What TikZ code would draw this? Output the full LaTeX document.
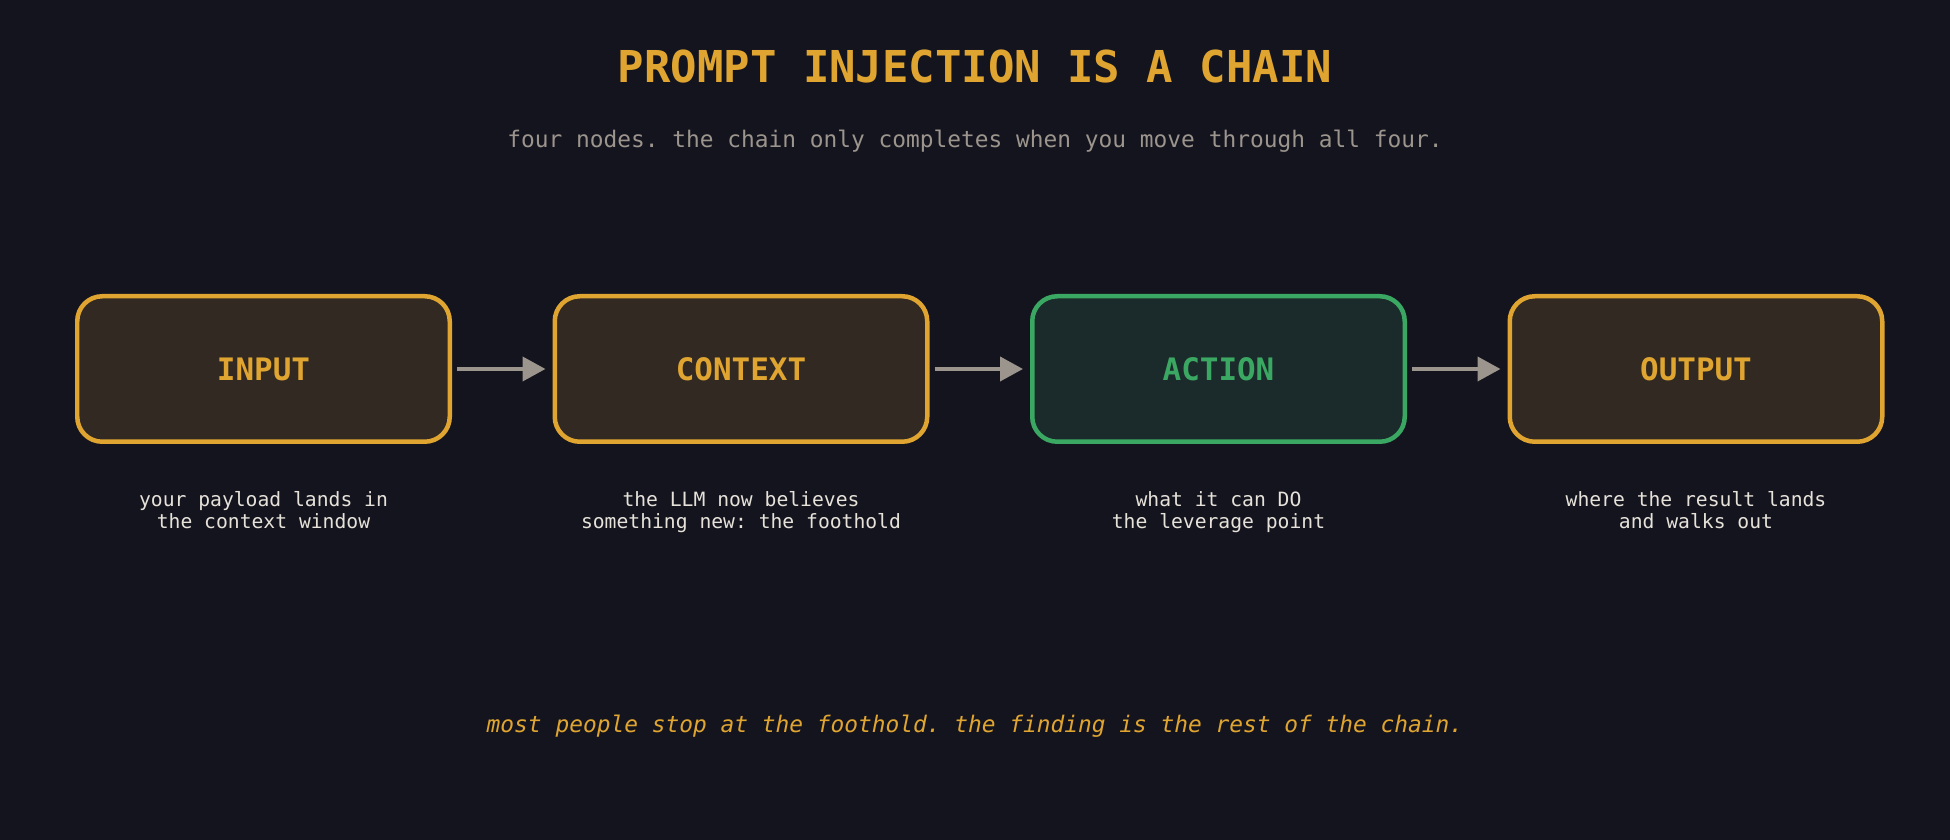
\documentclass[tikz,border=0pt]{standalone}
\usepackage{fontspec}
\setmainfont{DejaVu Sans Mono}
\usetikzlibrary{arrows.meta,positioning}
\frenchspacing

\definecolor{bg}{HTML}{14141E}
\definecolor{amber}{HTML}{E0A530}
\definecolor{amberfill}{HTML}{322923}
\definecolor{leaf}{HTML}{3AA862}
\definecolor{leaffill}{HTML}{1B2A2A}
\definecolor{stone}{HTML}{9C958D}
\definecolor{paper}{HTML}{E6E2DA}

\begin{document}
\begin{tikzpicture}[
  chainbox/.style={draw=amber,fill=amberfill,line width=1.28pt,rounded corners=0.25cm,
    minimum width=3.725cm,minimum height=1.455cm,text=amber,
    font=\fontsize{8.8}{10}\selectfont\bfseries},
  actbox/.style={chainbox,draw=leaf,fill=leaffill,text=leaf},
  note/.style={text=paper,align=center,inner sep=0pt,anchor=north,
    font=\fontsize{5.6}{6.1}\selectfont},
  link/.style={draw=stone,line width=1.14pt,-{Triangle[length=0.23cm,width=0.24cm]},
    shorten <=0.05cm,shorten >=0.07cm}
]
\fill[bg] (0,0) rectangle (19.5,8.4);
\useasboundingbox (0,0) rectangle (19.5,8.4);

\node[text=amber,font=\fontsize{12.5}{15}\selectfont\bfseries] (title) at (9.75,7.73){PROMPT INJECTION IS A CHAIN};
\node[text=stone,font=\fontsize{6.5}{8}\selectfont] (sub) at (9.75,6.99){four nodes. the chain only completes when you move through all four.};

% the four links
\node[chainbox] (input) at (2.635,4.71){INPUT};
\node[chainbox,right=1.005cm of input] (context){CONTEXT};
\node[actbox,right=1.005cm of context] (action){ACTION};
\node[chainbox,right=1.005cm of action] (output){OUTPUT};

\draw[link] (input) -- (context);
\draw[link] (context) -- (action);
\draw[link] (action) -- (output);

\node[note,below=0.47cm of input] (n1){your payload lands in\\the context window};
\node[note,below=0.47cm of context] (n2){the LLM now believes\\something new: the foothold};
\node[note,below=0.47cm of action] (n3){what it can DO\\the leverage point};
\node[note,below=0.47cm of output] (n4){where the result lands\\and walks out};

\node[text=amber,font=\fontsize{6.5}{8}\selectfont\itshape] (moral) at (9.75,1.14){most people stop at the foothold. the finding is the rest of the chain.};
\end{tikzpicture}
\end{document}
